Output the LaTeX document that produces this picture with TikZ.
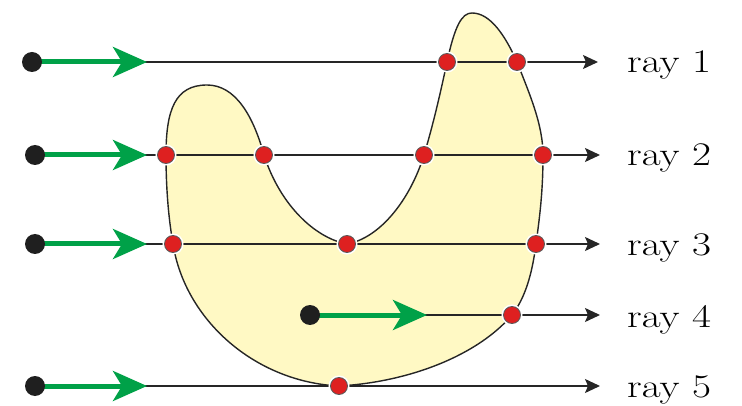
\documentclass[tikz,border=0pt]{standalone}
\usetikzlibrary{arrows.meta}
\definecolor{shapefill}{RGB}{255,249,196}
\definecolor{raygreen}{RGB}{0,161,72}
\definecolor{dotred}{RGB}{222,32,32}
\begin{document}
\begin{tikzpicture}[x=1pt,y=-1pt,
  rayline/.style={line width=1.4pt, draw=black!85, -{Stealth[length=15pt,width=14pt,inset=3pt]}},
  greenarrow/.style={line width=5pt, draw=raygreen, -{Stealth[length=34pt,width=30pt,inset=9pt,fill=raygreen]}},
  src/.style={circle, fill=black!88, minimum size=20pt, inner sep=0pt},
  hit/.style={circle, fill=dotred, draw=black!65, line width=0.8pt, minimum size=17pt, inner sep=0pt,
    preaction={draw=white, line width=4pt}},
  lab/.style={anchor=base west, inner sep=0pt, font=\fontsize{33}{36}\selectfont},
  body/.style={fill=shapefill, draw=black!85, line width=1.4pt}
]
\useasboundingbox (0,0) rectangle (742,406);
% the body
\draw[body] (207,85)
  .. controls (235,85) and (253,115) .. (264,155)
  .. controls (280,205) and (315,238) .. (347,244)
  .. controls (380,238) and (410,200) .. (424,155)
  .. controls (433,125) and (440,95) .. (447,62)
  .. controls (455,25) and (462,13) .. (472,13)
  .. controls (490,13) and (505,35) .. (517,62)
  .. controls (530,95) and (543,125) .. (543,155)
  .. controls (543,190) and (540,215) .. (536,244)
  .. controls (532,275) and (525,298) .. (512,315)
  .. controls (478,355) and (410,382) .. (339,386)
  .. controls (255,382) and (185,320) .. (173,244)
  .. controls (168,215) and (166,185) .. (166,155)
  .. controls (166,110) and (175,85) .. (207,85) -- cycle;
% coordinates
\coordinate (s1) at (32,62);  \coordinate (g1) at (147,62);  \coordinate (e1) at (598,62);
\coordinate (s2) at (35,155); \coordinate (g2) at (147,155); \coordinate (e2) at (600,155);
\coordinate (s3) at (35,244); \coordinate (g3) at (147,244); \coordinate (e3) at (600,244);
\coordinate (s4) at (310,315);\coordinate (g4) at (427,315); \coordinate (e4) at (600,315);
\coordinate (s5) at (35,386); \coordinate (g5) at (147,386); \coordinate (e5) at (600,386);
% rays
\foreach \i in {1,...,5}{
  \draw[rayline] (s\i) -- (e\i);
  \draw[greenarrow] (s\i) -- (g\i);
}
% hit points
\node[hit] (h11) at (447,62) {};
\node[hit] (h12) at (517,62) {};
\node[hit] (h21) at (166,155) {};
\node[hit] (h22) at (264,155) {};
\node[hit] (h23) at (424,155) {};
\node[hit] (h24) at (543,155) {};
\node[hit] (h31) at (173,244) {};
\node[hit] (h32) at (347,244) {};
\node[hit] (h33) at (536,244) {};
\node[hit] (h41) at (512,315) {};
\node[hit] (h51) at (339,386) {};
% sources
\foreach \i in {1,...,5}{ \node[src] (src\i) at (s\i) {}; }
% labels
\node[lab] (l1) at (627,73) {\scalebox{1.25}[1]{ray 1}};
\node[lab] (l2) at (627,166) {\scalebox{1.25}[1]{ray 2}};
\node[lab] (l3) at (627,256) {\scalebox{1.25}[1]{ray 3}};
\node[lab] (l4) at (627,327) {\scalebox{1.25}[1]{ray 4}};
\node[lab] (l5) at (627,397) {\scalebox{1.25}[1]{ray 5}};
\end{tikzpicture}
\end{document}
